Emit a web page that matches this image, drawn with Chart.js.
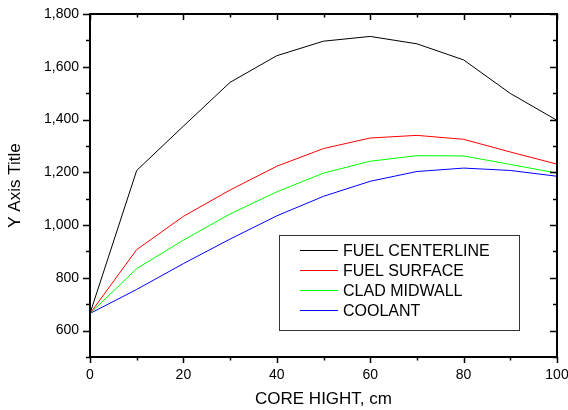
<!DOCTYPE html>
<html>
<head>
<meta charset="utf-8">
<script src="https://cdn.jsdelivr.net/npm/chart.js@4"></script>
<style>
  html, body { margin: 0; padding: 0; background: #fff; }
  canvas { display: block; }
</style>
</head>
<body>
<canvas id="tempChart" width="568" height="410"></canvas>
<script>
const heights = [0, 10, 20, 30, 40, 50, 60, 70, 80, 90, 100];
const fuelCenterline = [665, 1207, 1375, 1541, 1642, 1697, 1715, 1687, 1626, 1499, 1397];
const fuelSurface = [665, 907, 1033, 1133, 1223, 1290, 1330, 1340, 1325, 1277, 1231];
const cladMidwall = [665, 835, 943, 1042, 1126, 1197, 1242, 1263, 1262, 1230, 1197];
const coolant = [665, 756, 854, 947, 1035, 1109, 1166, 1203, 1216, 1207, 1185];

const xTicks = [0, 20, 40, 60, 80, 100];
const yTicks = [600, 800, 1000, 1200, 1400, 1600, 1800];

const seriesNames = ["FUEL CENTERLINE", "FUEL SURFACE", "CLAD MIDWALL", "COOLANT"];
const seriesColors = ["#000000", "#ff0000", "#00ff00", "#0000ff"];
const seriesValues = [fuelCenterline, fuelSurface, cladMidwall, coolant];

const FONT = "'Liberation Sans', Arial, sans-serif";

function toPoints(values) {
  return heights.map((h, i) => ({ x: h, y: values[i] }));
}

// frame with ticks on all four sides (outer on left/bottom, inner on top/right)
const framePlugin = {
  id: "frame",
  afterDatasetsDraw(chart) {
    const { ctx, chartArea: a, scales } = chart;
    const xs = scales.x;
    const ys = scales.y;
    ctx.save();
    ctx.strokeStyle = "#000";
    ctx.lineWidth = 1.5;
    ctx.beginPath();
    for (let v = 0; v <= 100; v += 10) {
      const px = Math.round(xs.getPixelForValue(v)) + 0.5;
      const len = v % 20 === 0 ? 6 : 3.5;
      ctx.moveTo(px, a.bottom);
      ctx.lineTo(px, a.bottom + len);
      ctx.moveTo(px, a.top);
      ctx.lineTo(px, a.top + len);
    }
    for (let v = 500; v <= 1800; v += 100) {
      const py = Math.round(ys.getPixelForValue(v)) + 0.5;
      const len = v % 200 === 0 ? 7 : 4;
      ctx.moveTo(a.left, py);
      ctx.lineTo(a.left - len, py);
      ctx.moveTo(a.right, py);
      ctx.lineTo(a.right - len, py);
    }
    ctx.stroke();
    ctx.lineWidth = 2;
    ctx.strokeRect(a.left, a.top, a.right - a.left, a.bottom - a.top);
    ctx.restore();
  },
  afterDraw(chart) {
    const { ctx } = chart;
    ctx.save();
    ctx.strokeStyle = "#333";
    ctx.lineWidth = 1;
    ctx.strokeRect(279.5, 235.5, 240, 95);
    ctx.font = "16px " + FONT;
    ctx.textBaseline = "middle";
    ctx.fillStyle = "#000";
    chart.data.datasets.forEach((ds, i) => {
      const y = 250.5 + i * 20;
      ctx.strokeStyle = ds.borderColor;
      ctx.beginPath();
      ctx.moveTo(300, y);
      ctx.lineTo(338, y);
      ctx.stroke();
      ctx.fillText(ds.label, 343, y + 1);
    });
    ctx.restore();
  },
};

new Chart(document.getElementById("tempChart"), {
  type: "line",
  data: {
    datasets: seriesNames.map((name, i) => ({
      label: name,
      data: toPoints(seriesValues[i]),
      borderColor: seriesColors[i],
      backgroundColor: seriesColors[i],
      borderWidth: 1,
      pointRadius: 0,
      tension: 0,
      fill: false,
    })),
  },
  options: {
    responsive: false,
    animation: false,
    layout: { padding: { left: 0, top: 14, right: 11, bottom: 0 } },
    plugins: {
      legend: { display: false },
      tooltip: { enabled: false },
    },
    scales: {
      x: {
        type: "linear",
        min: 0,
        max: 100,
        grid: { display: false, drawTicks: false },
        border: { display: false },
        afterBuildTicks: (s) => { s.ticks = xTicks.map((v) => ({ value: v })); },
        afterFit: (s) => {
          s.height = 53;
          s.paddingLeft = 0;
          s.paddingRight = 0;
        },
        ticks: {
          color: "#000",
          padding: 10,
          maxRotation: 0,
          font: { family: FONT, size: 14 },
        },
        title: {
          display: true,
          text: "CORE HIGHT, cm",
          color: "#000",
          padding: { top: 0, bottom: 0 },
          font: { family: FONT, size: 17 },
        },
      },
      y: {
        type: "linear",
        min: 500,
        max: 1800,
        grid: { display: false, drawTicks: false },
        border: { display: false },
        afterBuildTicks: (s) => { s.ticks = yTicks.map((v) => ({ value: v })); },
        afterFit: (s) => {
          s.width = 90;
          s.paddingTop = 0;
          s.paddingBottom = 0;
        },
        ticks: {
          color: "#000",
          padding: 11,
          font: { family: FONT, size: 14 },
          callback: (v) => v.toLocaleString("en-US"),
        },
        title: {
          display: true,
          text: "Y Axis Title",
          color: "#000",
          padding: { top: 5, bottom: 0 },
          font: { family: FONT, size: 17 },
        },
      },
    },
  },
  plugins: [framePlugin],
});
</script>
</body>
</html>
